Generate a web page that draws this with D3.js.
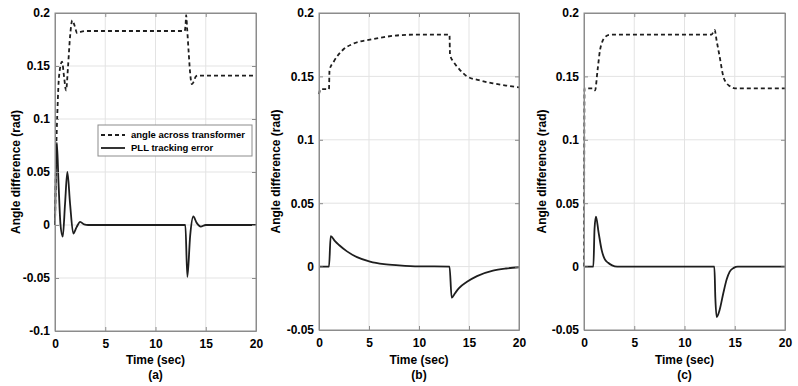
<!DOCTYPE html>
<html>
<head>
<meta charset="utf-8">
<script src="https://cdnjs.cloudflare.com/ajax/libs/d3/7.8.5/d3.min.js"></script>
<style>
  body { margin: 0; background: #fff; }
  svg text { font-family: "Liberation Sans", Arial, sans-serif; font-weight: bold; fill: #000; }
</style>
</head>
<body>
<div id="chart"></div>
<script>
// x axis (same for all three plots)
var xTicks = [0, 5, 10, 15, 20];

// y ticks per plot
var yTicksA = [-0.1, -0.05, 0, 0.05, 0.1, 0.15, 0.2];
var yLabelsA = ["-0.1", "-0.05", "0", "0.05", "0.1", "0.15", "0.2"];
var yTicksBC = [-0.05, 0, 0.05, 0.1, 0.15, 0.2];
var yLabelsBC = ["-0.05", "0", "0.05", "0.1", "0.15", "0.2"];

var legendNames = ["angle across transformer", "PLL tracking error"];
var panelNames = ["(a)", "(b)", "(c)"];

// (a) angle across transformer
var tA_ang = [0, 0.1, 0.25, 0.4, 0.7, 0.9, 1.1, 1.3, 1.5, 1.72, 1.95, 2.2, 2.5, 3, 12.9, 13.0, 13.05, 13.15, 13.3, 13.45, 13.62, 13.8, 14.0, 14.2, 20];
var vA_ang = [0, 0.06, 0.11, 0.14, 0.154, 0.14, 0.127, 0.15, 0.178, 0.193, 0.188, 0.181, 0.182, 0.183, 0.183, 0.19, 0.198, 0.185, 0.163, 0.143, 0.133, 0.135, 0.14, 0.141, 0.141];
// (a) PLL tracking error
var tA_pll = [0, 0.05, 0.18, 0.35, 0.55, 0.77, 1.0, 1.23, 1.5, 1.82, 2.15, 2.5, 2.9, 3.3, 12.9, 12.97, 13.17, 13.45, 13.76, 14.1, 14.5, 15, 20];
var vA_pll = [0, 0.03, 0.078, 0.04, 0.0, -0.011, 0.02, 0.05, 0.02, -0.008, -0.002, 0.003, 0.0005, 0, 0, 0, -0.049, -0.01, 0.008, 0.002, -0.0015, 0, 0];

// (b)
var tB_ang = [0, 0.15, 1.0, 1.05, 1.5, 2.4, 3.5, 5.1, 6.5, 8.1, 10, 13.05, 13.1, 13.5, 14.0, 14.8, 16, 17.4, 18.7, 20];
var vB_ang = [0.136, 0.14, 0.14, 0.155, 0.162, 0.171, 0.176, 0.179, 0.181, 0.1825, 0.183, 0.183, 0.167, 0.161, 0.156, 0.150, 0.147, 0.1445, 0.1428, 0.1414];
var tB_pll = [0, 1.0, 1.17, 1.6, 2.0, 2.8, 3.8, 5.1, 6.5, 8, 10, 13.05, 13.27, 13.6, 14.0, 14.8, 15.8, 17.4, 18.7, 20];
var vB_pll = [0, 0, 0.024, 0.02, 0.017, 0.012, 0.0075, 0.004, 0.002, 0.001, 0.0002, 0, -0.0245, -0.021, -0.017, -0.012, -0.0075, -0.0032, -0.0015, -0.0005];

// (c)
var tC_ang = [0, 0.05, 0.9, 1.1, 1.35, 1.6, 1.85, 2.1, 2.5, 3, 12.7, 13.0, 13.2, 13.5, 13.86, 14.2, 14.5, 15, 20];
var vC_ang = [0, 0.1406, 0.1406, 0.139, 0.155, 0.171, 0.178, 0.181, 0.1828, 0.183, 0.183, 0.1866, 0.178, 0.1655, 0.150, 0.1445, 0.1424, 0.1406, 0.1406];
var tC_pll = [0, 0.93, 1.05, 1.19, 1.45, 1.76, 2.05, 2.4, 2.8, 3.3, 12.97, 13.07, 13.2, 13.5, 13.86, 14.2, 14.5, 14.9, 15.3, 20];
var vC_pll = [0, 0, 0.03, 0.0394, 0.027, 0.013, 0.006, 0.003, 0.001, 0, 0, -0.025, -0.0398, -0.034, -0.021, -0.01, -0.004, -0.001, 0, 0];

function zip(t, v) {
  return t.map(function(d, i) { return [d, v[i]]; });
}

var svg = d3.select("#chart").append("svg")
  .attr("width", 798)
  .attr("height", 386);

var panels = [
  { left: 55, right: 256, top: 13, bottom: 331, ylab: 15.5, ticks: yTicksA, labels: yLabelsA,
    ang: zip(tA_ang, vA_ang), pll: zip(tA_pll, vA_pll), legend: true },
  { left: 319, right: 519, top: 13, bottom: 330, ylab: 275.5, ticks: yTicksBC, labels: yLabelsBC,
    ang: zip(tB_ang, vB_ang), pll: zip(tB_pll, vB_pll) },
  { left: 584, right: 785, top: 13, bottom: 330, ylab: 541.5, ticks: yTicksBC, labels: yLabelsBC,
    ang: zip(tC_ang, vC_ang), pll: zip(tC_pll, vC_pll) }
];

panels.forEach(function(p, idx) {
  var w = p.right - p.left, h = p.bottom - p.top;
  var x = d3.scaleLinear().domain([0, 20]).range([0, w]);
  var y = d3.scaleLinear().domain([p.ticks[0], p.ticks[p.ticks.length - 1]]).range([h, 0]);

  var g = svg.append("g").attr("transform", "translate(" + p.left + "," + p.top + ")");

  // grid
  g.selectAll(".gx").data(xTicks.slice(1, -1)).enter().append("line")
    .attr("x1", function(d) { return x(d); }).attr("x2", function(d) { return x(d); })
    .attr("y1", 0).attr("y2", h)
    .attr("stroke", "#e3e3e3").attr("stroke-width", 1);
  g.selectAll(".gy").data(p.ticks.slice(1, -1)).enter().append("line")
    .attr("y1", function(d) { return y(d); }).attr("y2", function(d) { return y(d); })
    .attr("x1", 0).attr("x2", w)
    .attr("stroke", "#e3e3e3").attr("stroke-width", 1);

  // lines
  var line = d3.line()
    .x(function(d) { return x(d[0]); })
    .y(function(d) { return y(d[1]); })
    .curve(d3.curveMonotoneX);

  g.append("path").datum(p.pll)
    .attr("d", line).attr("fill", "none")
    .attr("stroke", "#1e1e1e").attr("stroke-width", 1.8);
  g.append("path").datum(p.ang)
    .attr("d", line).attr("fill", "none")
    .attr("stroke", "#1e1e1e").attr("stroke-width", 1.8)
    .attr("stroke-dasharray", "4,3");

  // axes, ticks point inside like matlab
  var lab = {};
  p.ticks.forEach(function(t, i) { lab[t] = p.labels[i]; });

  var xAxis = d3.axisBottom(x).tickValues(xTicks).tickSizeInner(-4).tickSizeOuter(0).tickPadding(8);
  var yAxis = d3.axisLeft(y).tickValues(p.ticks).tickSizeInner(-4).tickSizeOuter(0).tickPadding(5)
    .tickFormat(function(d) { return lab[d]; });

  var gx = g.append("g").attr("transform", "translate(0," + h + ")").call(xAxis);
  var gy = g.append("g").call(yAxis);
  // top / right ticks
  g.append("g").call(d3.axisTop(x).tickValues(xTicks).tickSizeInner(-4).tickSizeOuter(0).tickFormat(""));
  g.append("g").attr("transform", "translate(" + w + ",0)")
    .call(d3.axisRight(y).tickValues(p.ticks).tickSizeInner(-4).tickSizeOuter(0).tickFormat(""));

  g.selectAll(".domain, .tick line").attr("stroke", "#8c8c8c");
  g.selectAll(".tick text").attr("font-size", 12).attr("font-family", "Liberation Sans, Arial, sans-serif")
    .attr("font-weight", "bold").attr("fill", "#000");

  // box
  g.append("rect").attr("width", w).attr("height", h)
    .attr("fill", "none").attr("stroke", "#8c8c8c").attr("stroke-width", 1);

  // labels
  svg.append("text")
    .attr("x", (p.left + p.right) / 2).attr("y", 364)
    .attr("text-anchor", "middle").attr("font-size", 12)
    .text("Time (sec)");
  svg.append("text")
    .attr("x", (p.left + p.right) / 2).attr("y", 379)
    .attr("text-anchor", "middle").attr("font-size", 12)
    .text(panelNames[idx]);
  svg.append("text")
    .attr("transform", "translate(" + p.ylab + "," + (p.top + p.bottom) / 2 + ") rotate(-90)")
    .attr("dy", "0.35em")
    .attr("text-anchor", "middle").attr("font-size", 12)
    .text("Angle difference (rad)");

  if (p.legend) {
    var lg = svg.append("g").attr("transform", "translate(98,125)");
    lg.append("rect").attr("width", 154).attr("height", 31)
      .attr("fill", "#fff").attr("stroke", "#8c8c8c");
    legendNames.forEach(function(name, i) {
      var yy = 10 + i * 13;
      lg.append("line").attr("x1", 3).attr("x2", 27).attr("y1", yy).attr("y2", yy)
        .attr("stroke", "#1e1e1e").attr("stroke-width", 1.8)
        .attr("stroke-dasharray", i == 0 ? "4,3" : null);
      lg.append("text").attr("x", 33).attr("y", yy).attr("dy", "0.35em")
        .attr("font-size", 9.5).text(name);
    });
  }
});
</script>
</body>
</html>
